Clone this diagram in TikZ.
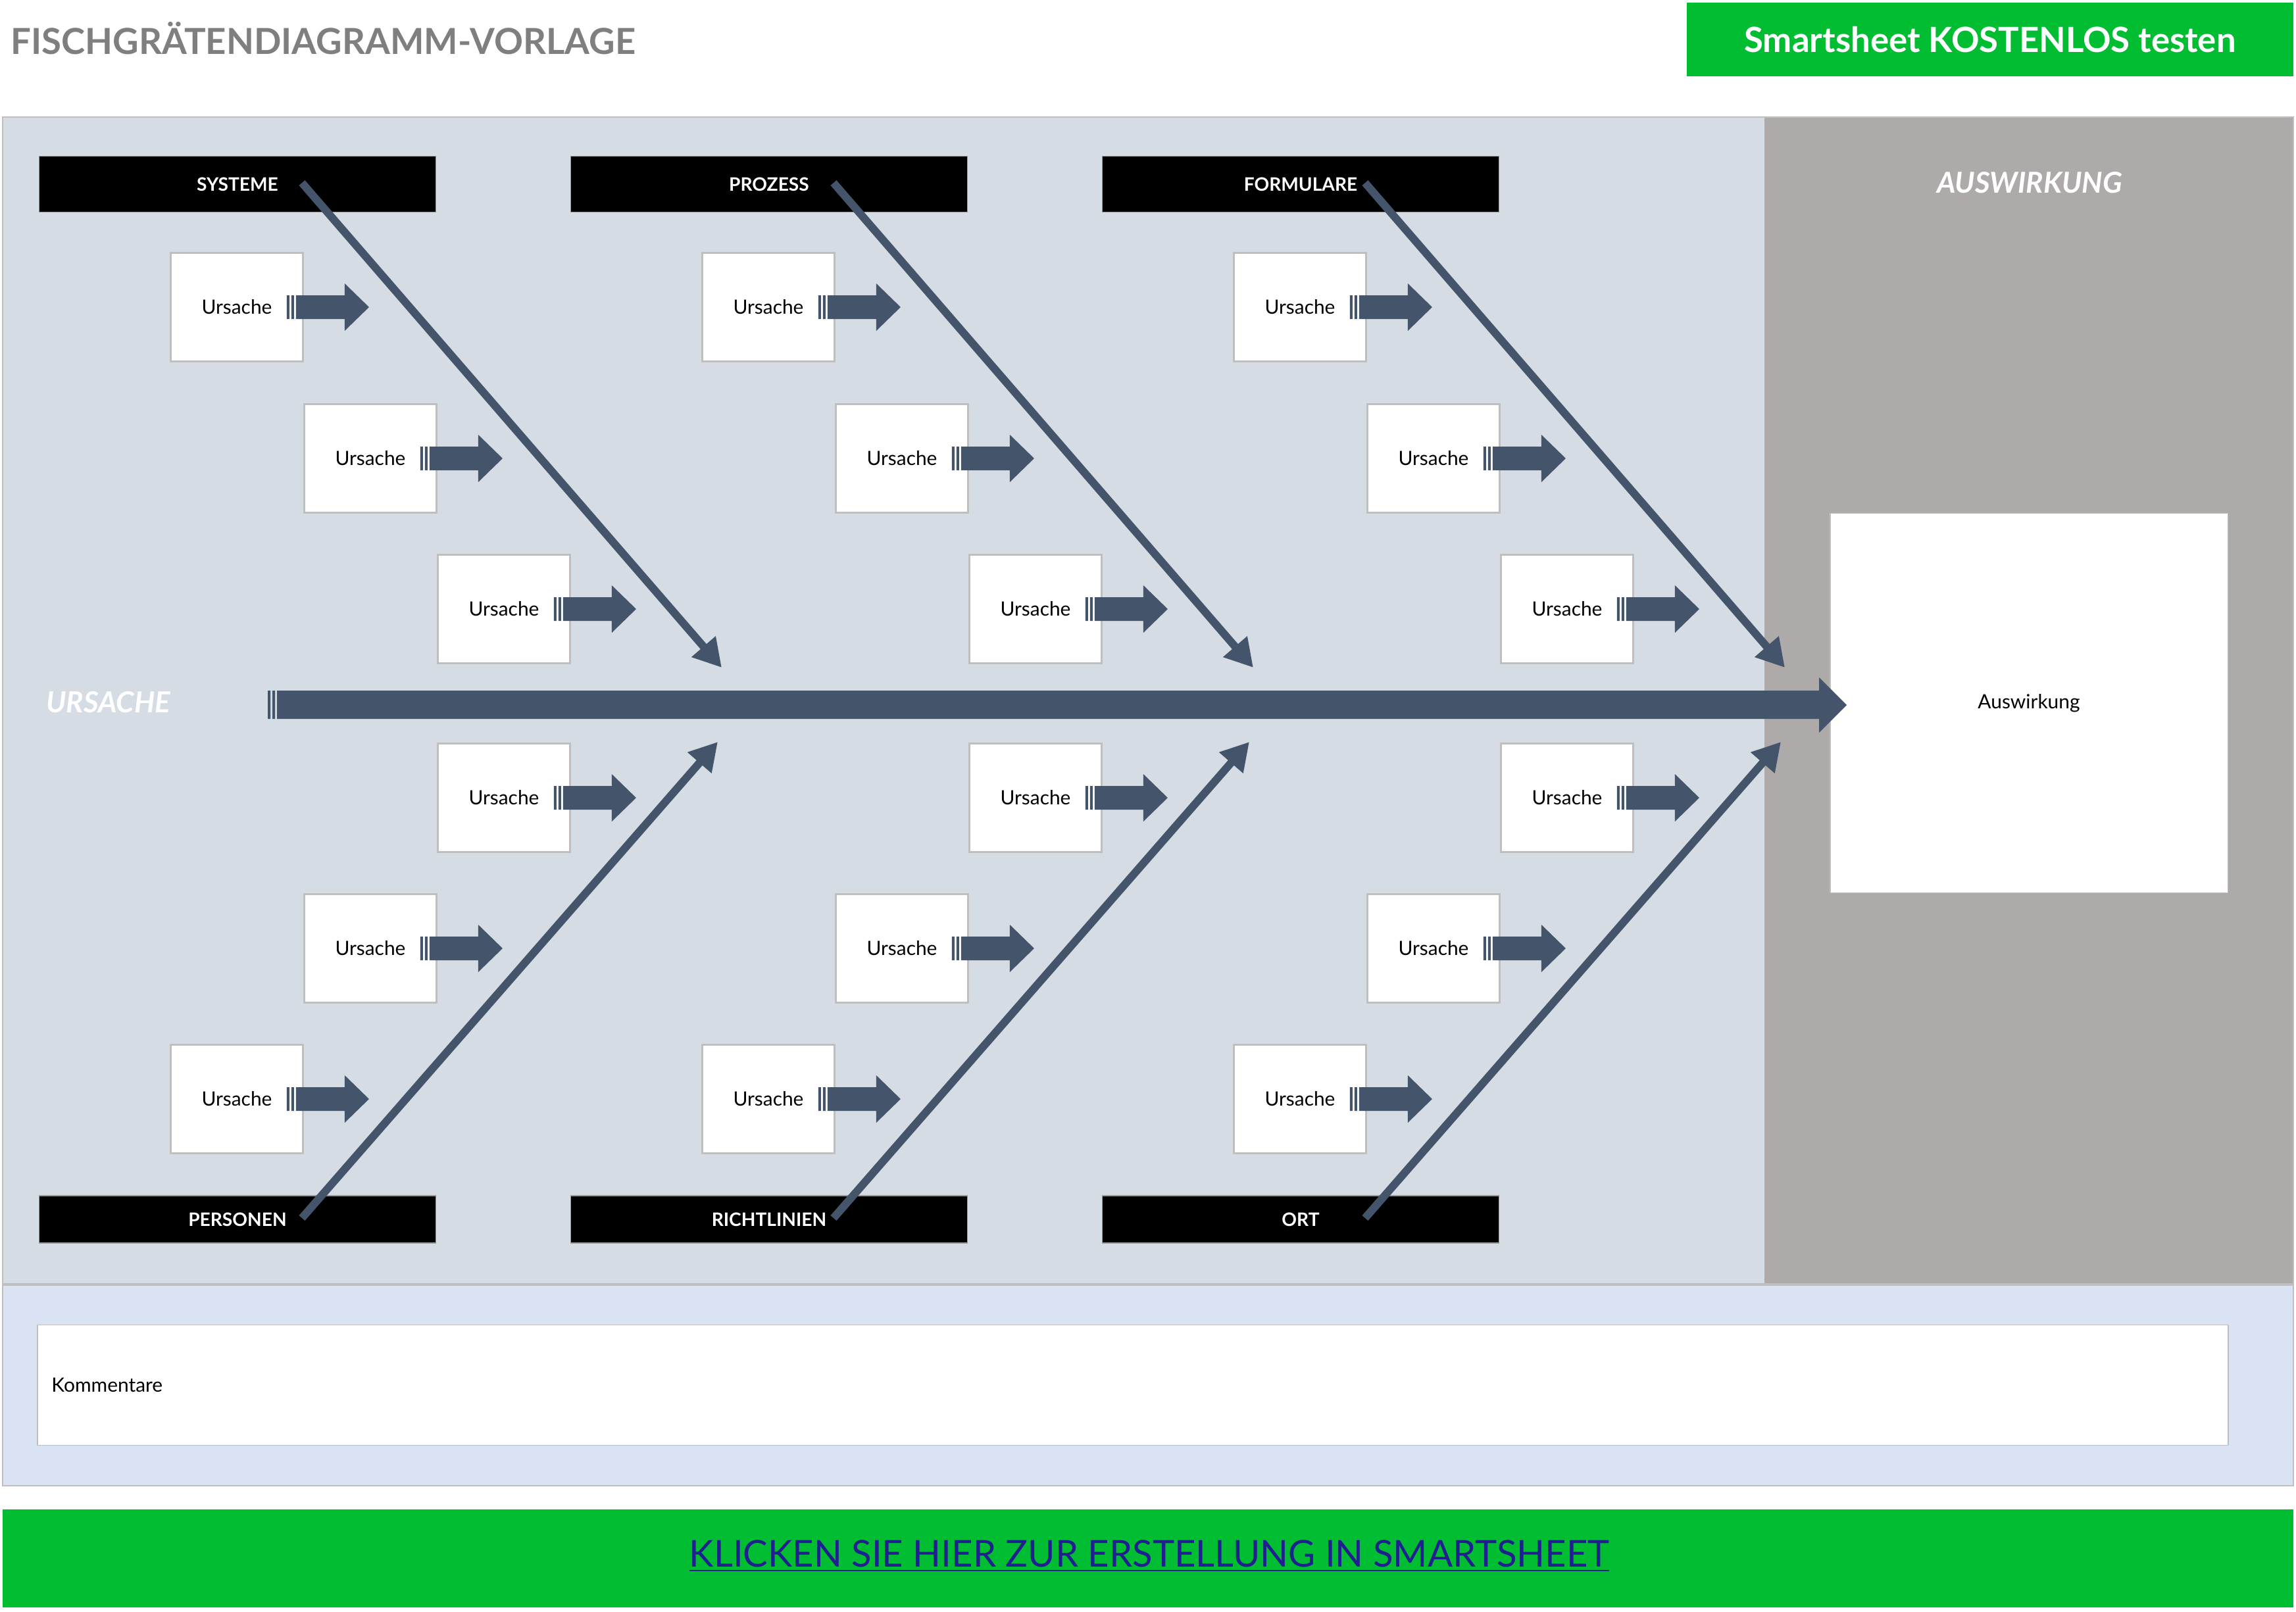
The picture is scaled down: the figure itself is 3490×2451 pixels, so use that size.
\documentclass[tikz,border=0pt]{standalone}
\usepackage{fontspec}
\setmainfont{Lato}
\usetikzlibrary{arrows.meta}
\usetikzlibrary{positioning}

\definecolor{slate}{HTML}{44546A}
\definecolor{panel}{HTML}{D6DCE4}
\definecolor{effect}{HTML}{AEAAAA}
\definecolor{sgreen}{HTML}{00BD32}
\definecolor{notes}{HTML}{DAE3F3}
\definecolor{titlegray}{HTML}{7F7F7F}
\definecolor{linkblue}{HTML}{1F1F8F}

\newcommand{\fsz}[1]{\fontsize{#1}{#1}\selectfont}

% small striped arrow leaving a cause box
\newcommand{\causearrow}[1]{%
  \fill[slate,shift={(#1)}] (-26,-18) rectangle (-22,18) (-19,-18) rectangle (-15,18)
    (-12,-18) -- (62,-18) -- (62,-36) -- (99,0) -- (62,36) -- (62,18) -- (-12,18) -- cycle;}

\begin{document}
\begin{tikzpicture}[
  x=0.01cm, y=-0.01cm,
  cause/.style = {draw=black!25, line width=0.8pt, fill=white, minimum width=2.01cm,
                  minimum height=1.65cm, font=\fsz{8.5}},
  header/.style = {draw=black!40, fill=black, text=white, minimum width=6.03cm,
                   font=\bfseries\fsz{8}},
  bone/.style = {slate, line width=3.4pt, -{Triangle[length=12pt,width=13pt]}}
  ]
  \useasboundingbox (0,0) rectangle (3490,2451);

  % top bar
  \node[anchor=west, text=titlegray, font=\bfseries\fsz{15.5}] (title) at (4,58) {FISCHGRÄTENDIAGRAMM-VORLAGE};
  \fill[sgreen] (2564,4) rectangle (3486,116);
  \node[text=white, font=\bfseries\fsz{15}] (try) at (3025,60) {Smartsheet KOSTENLOS testen};

  % panels
  \filldraw[fill=panel, draw=black!25] (4,178) rectangle (3486,1952);
  \fill[effect] (2682,179) rectangle (3485,1951);
  \node[text=white, font=\bfseries\itshape\fsz{12.5}] (efflabel) at (3085,278) {AUSWIRKUNG};
  \node[anchor=west, text=white, font=\bfseries\itshape\fsz{12.5}] (causelabel) at (58,1068) {URSACHE};
  \node[draw=black!25, fill=white, minimum width=6.04cm, minimum height=5.77cm, font=\fsz{8.5}] (effect) at (3084,1069) {Auswirkung};

  % spine
  \fill[slate] (407,1050) rectangle (411,1093) (414,1050) rectangle (418,1093)
    (421,1050) -- (2765,1050) -- (2765,1030) -- (2807,1072) -- (2765,1114) -- (2765,1093) -- (421,1093) -- cycle;

  % categories, bones and causes
  \foreach \col/\top/\bot in {0/SYSTEME/PERSONEN, 808/PROZESS/RICHTLINIEN, 1616/FORMULARE/ORT} {
    \node[header, minimum height=0.85cm] (t\col) at (361+\col,280) {\top};
    \node[header, minimum height=0.72cm] (b\col) at (361+\col,1854) {\bot};
    \coordinate (tt\col) at (459+\col,278);
    \coordinate (bt\col) at (459+\col,1852);
    \coordinate (tend\col) at (1097+\col,1015);
    \coordinate (bend\col) at (1091+\col,1128);
    \draw[bone] (tt\col) -- (tend\col);
    \draw[bone] (bt\col) -- (bend\col);
    \foreach \i/\cx/\cy in {1/360/467, 2/563/697, 3/766/926, 4/766/1213, 5/563/1442, 6/360/1671} {
      \node[cause] (c\col-\i) at (\cx+\col,\cy) {Ursache};
      \causearrow{c\col-\i.east}
    }
  }

  % comments
  \filldraw[fill=notes, draw=black!25] (4,1954) rectangle (3486,2259);
  \node[draw=black!25, fill=white, minimum width=33.28cm, minimum height=1.83cm] (notes) at (1722,2106) {};
  \node[anchor=west, font=\fsz{8.5}] (notestext) at (66,2106) {Kommentare};

  % link bar
  \fill[sgreen] (4,2295) rectangle (3486,2444);
  \node[text=linkblue, font=\fsz{16}] (link) at (1747,2366) {\underline{KLICKEN SIE HIER ZUR ERSTELLUNG IN SMARTSHEET}};
\end{tikzpicture}
\end{document}
